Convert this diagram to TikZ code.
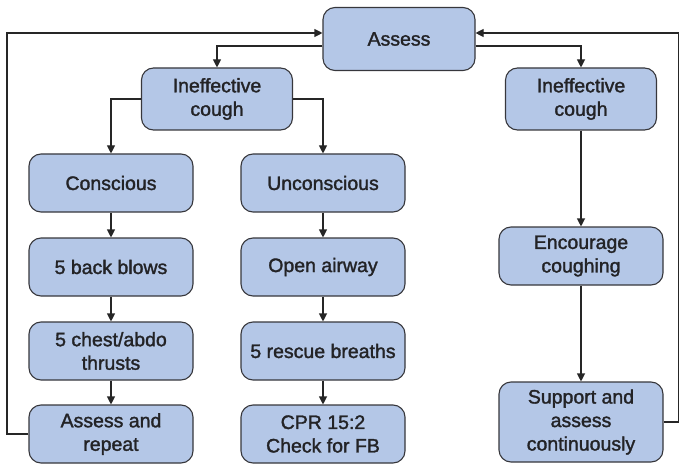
\documentclass[tikz,border=0pt]{standalone}
\usepackage{fontspec}
\setmainfont{Liberation Sans}
\newfontfamily\boxfont{Liberation Sans}[FakeBold=1.6]
\usetikzlibrary{arrows.meta}
\definecolor{boxblue}{RGB}{180,199,231}
\definecolor{boxline}{RGB}{55,55,60}
\definecolor{txt}{RGB}{35,35,38}
\begin{document}
\begin{tikzpicture}[x=1pt, y=-1pt, >={Triangle[length=8pt,width=8pt]},
    box/.style={draw=boxline, fill=boxblue, line width=1.1pt, rounded corners=12pt,
        text=txt, align=center, font=\boxfont\fontsize{19.5}{23.5}\selectfont,
        minimum width=164pt, minimum height=58pt, inner sep=2pt},
    link/.style={->, line width=1.1pt, draw=black!85}]
    % 1. Vùng hiển thị
    \useasboundingbox (0,0) rectangle (679,465);

    % 2. Các ô
    \node[box, minimum width=152pt, minimum height=63pt] (assess) at (399,39) {Assess};
    \node[box, minimum width=151pt, minimum height=62pt] (icl) at (217,99) {Ineffective\\cough};
    \node[box, minimum width=151pt, minimum height=62pt] (icr) at (581,99) {Ineffective\\cough};

    % Cột trái
    \node[box] (con) at (111,183) {Conscious};
    \node[box] (blows) at (111,267) {5 back blows};
    \node[box] (thrusts) at (111,351) {5 chest/abdo\\thrusts};
    \node[box] (rep) at (111,434) {Assess and\\repeat};

    % Cột giữa
    \node[box] (uncon) at (323,183) {Unconscious};
    \node[box] (airway) at (323,267) {Open airway};
    \node[box] (breaths) at (323,351) {5 rescue breaths};
    \node[box] (cpr) at (323,434) {CPR 15:2\\Check for FB};

    % Cột phải
    \node[box] (enc) at (581,256) {Encourage\\coughing};
    \node[box, minimum height=80pt] (sup) at (581,422) {Support and\\assess\\continuously};

    % 3. Mũi tên từ Assess xuống
    \draw[link] ([yshift=-7pt]assess.west) -| (icl.north);
    \draw[link] ([yshift=-7pt]assess.east) -| (icr.north);
    \draw[link] (icl.west) -| (con.north);
    \draw[link] (icl.east) -| (uncon.north);

    % 4. Các mũi tên dọc
    \foreach \a/\b in {con/blows, blows/thrusts, thrusts/rep,
                       uncon/airway, airway/breaths, breaths/cpr,
                       icr/enc, enc/sup}
        \draw[link] (\a) -- (\b);

    % 5. Vòng lặp quay về Assess
    \coordinate (lc) at (7,33);
    \coordinate (rc) at (678.5,33);
    \draw[link] (rep.west) -| (lc) -- (assess.west |- lc);
    \draw[link] (sup.east) -| (rc) -- (assess.east |- rc);
\end{tikzpicture}
\end{document}
